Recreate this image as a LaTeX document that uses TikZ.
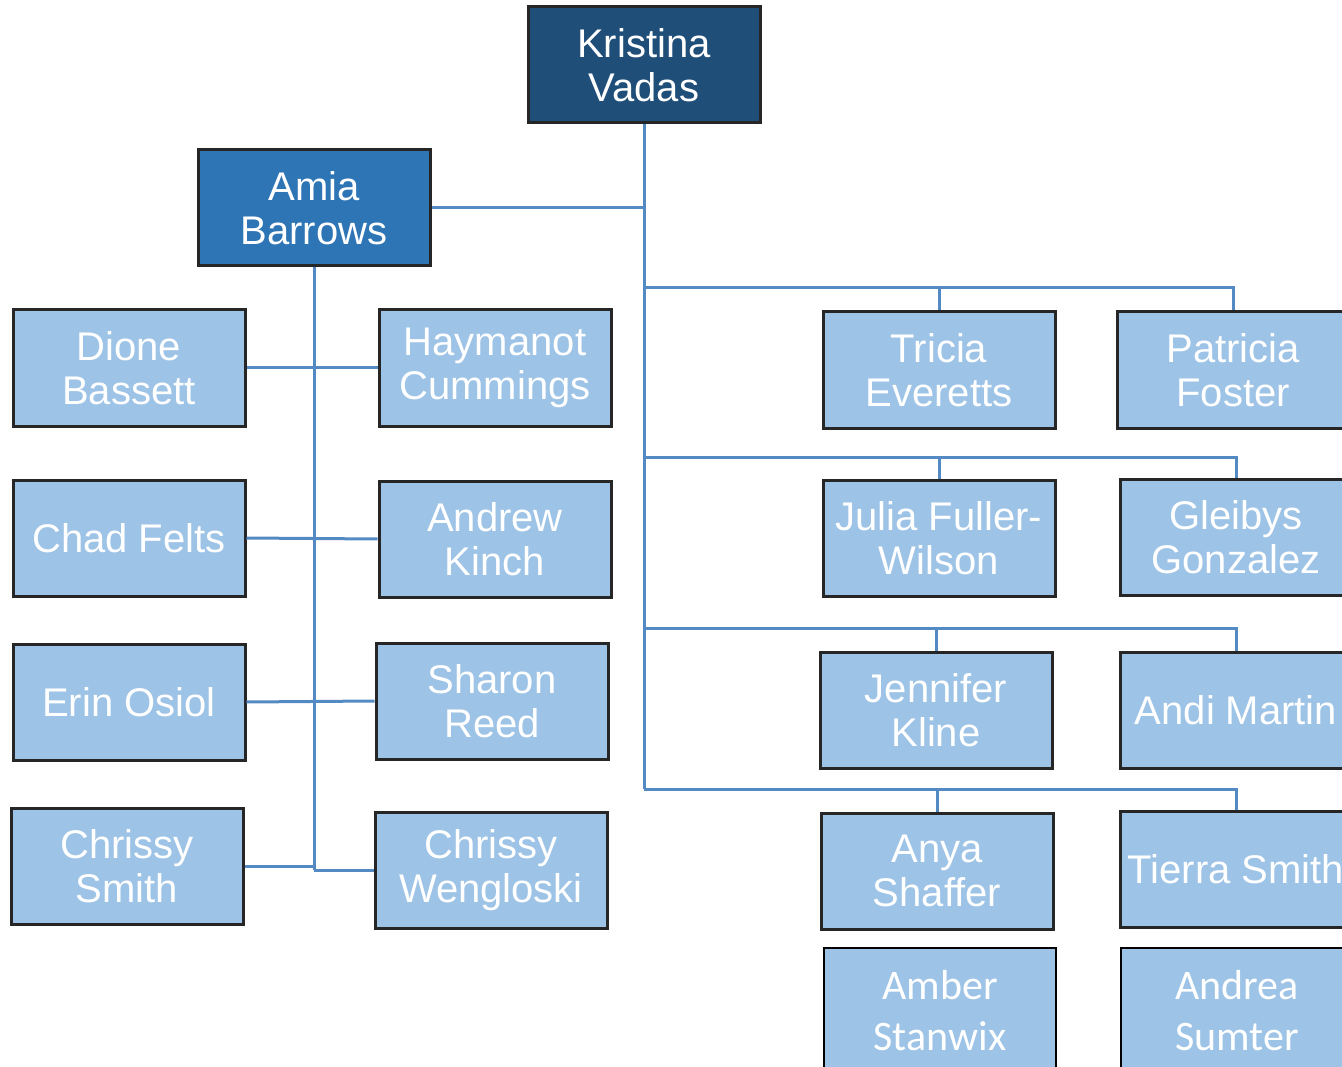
\documentclass[tikz,border=0pt]{standalone}
\usepackage{fontspec}
\setmainfont{Liberation Sans}
\newfontfamily\calibrifont{Carlito}
\definecolor{bossblue}{RGB}{31,78,121}
\definecolor{leadblue}{RGB}{46,117,182}
\definecolor{staffblue}{RGB}{157,195,230}
\definecolor{linkblue}{RGB}{84,138,196}
\definecolor{edgegray}{RGB}{38,38,38}
\tikzset{
  staffbox/.style={draw=edgegray,line width=3pt,fill=staffblue,text=white,
    minimum width=232pt,minimum height=116pt,inner sep=0pt,align=center,
    font=\fontsize{40}{44}\selectfont},
  leadbox/.style={staffbox,fill=leadblue},
  bossbox/.style={staffbox,fill=bossblue},
  newbox/.style={staffbox,draw=black,line width=2pt,minimum height=127pt,
    font=\calibrifont\fontsize{42}{51}\selectfont},
  link/.style={draw=linkblue,line width=3pt}
}
\begin{document}
\begin{tikzpicture}[x=1pt,y=-1pt]
  \useasboundingbox (0,0) rectangle (1342,1067);
  % top of the tree
  \node[bossbox] (kristina) at (644,65) {Kristina\\Vadas};
  \node[leadbox] (amia) at (314,208) {Amia\\Barrows};
  % left group
  \node[staffbox] (dione) at (129,368) {Dione\\Bassett};
  \node[staffbox] (haymanot) at (495,368) {Haymanot\\Cummings};
  \node[staffbox] (chad) at (129,538) {Chad Felts};
  \node[staffbox] (andrew) at (495,539) {Andrew\\Kinch};
  \node[staffbox] (erin) at (129,702) {Erin Osiol};
  \node[staffbox] (sharon) at (492,701) {Sharon\\Reed};
  \node[staffbox] (csmith) at (127,866) {Chrissy\\Smith};
  \node[staffbox] (wengloski) at (491,870) {Chrissy\\Wengloski};
  % right group
  \node[staffbox] (tricia) at (939,370) {Tricia\\Everetts};
  \node[staffbox] (patricia) at (1233,370) {Patricia\\Foster};
  \node[staffbox] (julia) at (939,538) {Julia Fuller-\\Wilson};
  \node[staffbox] (gleibys) at (1236,537) {Gleibys\\Gonzalez};
  \node[staffbox] (jennifer) at (936,710) {Jennifer\\Kline};
  \node[staffbox] (andi) at (1236,710) {Andi Martin};
  \node[staffbox] (anya) at (937,871) {Anya\\Shaffer};
  \node[staffbox] (tierra) at (1236,869) {Tierra Smith};
  \node[newbox] (amber) at (940,1011) {Amber\\Stanwix};
  \node[newbox] (andrea) at (1237,1011) {Andrea\\Sumter};
  % branch points
  \coordinate (bus1) at (644,288);
  \coordinate (bus2) at (644,457);
  \coordinate (bus3) at (644,628);
  \coordinate (bus4) at (644,789);
  \coordinate (abot) at (314,870);
  % connectors
  \draw[link] (kristina.south) -- (bus4);
  \draw[link] (amia.east) -- (amia.east -| kristina.south);
  \draw[link] (amia.south) -- (abot);
  \draw[link] (dione.east) -- (haymanot.west);
  \draw[link] (chad.east) -- (andrew.west);
  \draw[link] (erin.east) -- (sharon.west);
  \draw[link] (csmith.east) -- (csmith.east -| abot);
  \draw[link] (abot) -- (wengloski.west);
  \draw[link] (bus1) -| (patricia.north);
  \draw[link] (bus1 -| tricia.north) -- (tricia.north);
  \draw[link] (bus2) -| (gleibys.north);
  \draw[link] (bus2 -| julia.north) -- (julia.north);
  \draw[link] (bus3) -| (andi.north);
  \draw[link] (bus3 -| jennifer.north) -- (jennifer.north);
  \draw[link] (bus4) -| (tierra.north);
  \draw[link] (bus4 -| anya.north) -- (anya.north);
\end{tikzpicture}
\end{document}
